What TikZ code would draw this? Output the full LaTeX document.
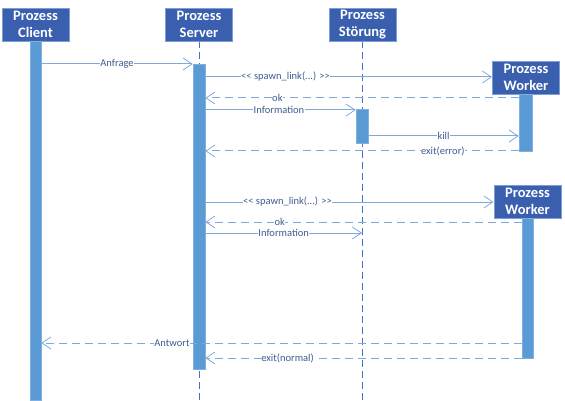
\documentclass[tikz,border=0pt]{standalone}
\usepackage{fontspec}
\setmainfont{Carlito}
\usetikzlibrary{arrows.meta}
\definecolor{hdrfill}{HTML}{3A5FAE}
\definecolor{hdrdraw}{HTML}{7C9ED6}
\definecolor{barfill}{HTML}{5B9BD5}
\definecolor{bardraw}{HTML}{7FB0E0}
\definecolor{lifec}{HTML}{4472C4}
\definecolor{msgc}{HTML}{7FA8DB}
\definecolor{labc}{HTML}{3E5E8E}
\tikzset{
  hdr/.style={draw=hdrdraw, line width=0.8pt, fill=hdrfill, text=white, font=\fontsize{14.5}{17.5}\selectfont\bfseries, align=center, minimum width=67pt, minimum height=33pt, inner sep=0pt},
  actbar/.style={draw=bardraw, line width=0.6pt, fill=barfill, inner sep=0pt},
  life/.style={draw=lifec, line width=0.9pt, dash pattern=on 7pt off 4pt},
  msg/.style={draw=msgc, line width=1pt, -{Straight Barb[length=9pt,width=12pt,line width=0.8pt]}},
  reply/.style={msg, dash pattern=on 8pt off 5pt},
  lab/.style={fill=white, text=labc, font=\fontsize{10.5}{12}\selectfont, inner sep=0.5pt}
}
\begin{document}
\begin{tikzpicture}[x=1pt,y=-1pt]
\useasboundingbox (0,0) rectangle (565,401);
% lifelines
\coordinate (slt) at (199,41); \coordinate (slb) at (199,400);
\coordinate (dlt) at (362,41); \coordinate (dlb) at (362,400);
\draw[life] (slt) -- (slb);
\draw[life] (dlt) -- (dlb);
% headers
\node[hdr] (hc) at (35.5,24.5) {Prozess\\Client};
\node[hdr] (hs) at (199,24.5) {Prozess\\Server};
\node[hdr] (hd) at (362.5,24.5) {Prozess\\Störung};
\node[hdr] (hw1) at (526,77.5) {Prozess\\Worker};
\node[hdr] (hw2) at (527.5,201.5) {Prozess\\Worker};
% activation bars
\node[actbar, minimum width=11pt, minimum height=359pt] (bc) at (35.5,220.5) {};
\node[actbar, minimum width=12pt, minimum height=305pt] (bs) at (199,216.5) {};
\node[actbar, minimum width=12pt, minimum height=34pt] (bd) at (362,126) {};
\node[actbar, minimum width=13pt, minimum height=57pt] (bw1) at (525.5,122.5) {};
\node[actbar, minimum width=11pt, minimum height=140pt] (bw2) at (527.5,288) {};
% message levels
\coordinate (y1) at (0,64);
\coordinate (y2) at (0,77);
\coordinate (y3) at (0,98);
\coordinate (y4) at (0,110);
\coordinate (y5) at (0,136);
\coordinate (y6) at (0,151);
\coordinate (y7) at (0,202);
\coordinate (y8) at (0,222);
\coordinate (y9) at (0,233);
\coordinate (y10) at (0,343);
\coordinate (y11) at (0,358);
% messages
\draw[msg] (bc.east |- y1) -- node[lab, pos=0.5] {Anfrage} (bs.west |- y1);
\draw[msg] (bs.east |- y2) -- node[lab, pos=0.28] {{<}{<} spawn\_link(...) {>}{>}} (hw1.west |- y2);
\draw[reply] (bw1.west |- y3) -- node[lab, pos=0.77] {ok} (bs.east |- y3);
\draw[msg] (bs.east |- y4) -- node[lab, pos=0.49] {Information} (bd.west |- y4);
\draw[msg] (bd.east |- y5) -- node[lab, pos=0.5] {kill} (bw1.west |- y5);
\draw[reply] (bw1.west |- y6) -- node[lab, pos=0.242] {exit(error)} (bs.east |- y6);
\draw[msg] (bs.east |- y7) -- node[lab, pos=0.285] {{<}{<} spawn\_link(...) {>}{>}} (hw2.west |- y7);
\draw[reply] (bw2.west |- y8) -- node[lab, pos=0.765] {ok} (bs.east |- y8);
\draw[msg] (bs.east |- y9) -- node[lab, pos=0.5] {Information} (dlb |- y9);
\draw[reply] (bw2.west |- y10) -- node[lab, pos=0.728] {Antwort} (bc.east |- y10);
\draw[reply] (bw2.west |- y11) -- node[lab, pos=0.74] {exit(normal)} (bs.east |- y11);
\end{tikzpicture}
\end{document}
